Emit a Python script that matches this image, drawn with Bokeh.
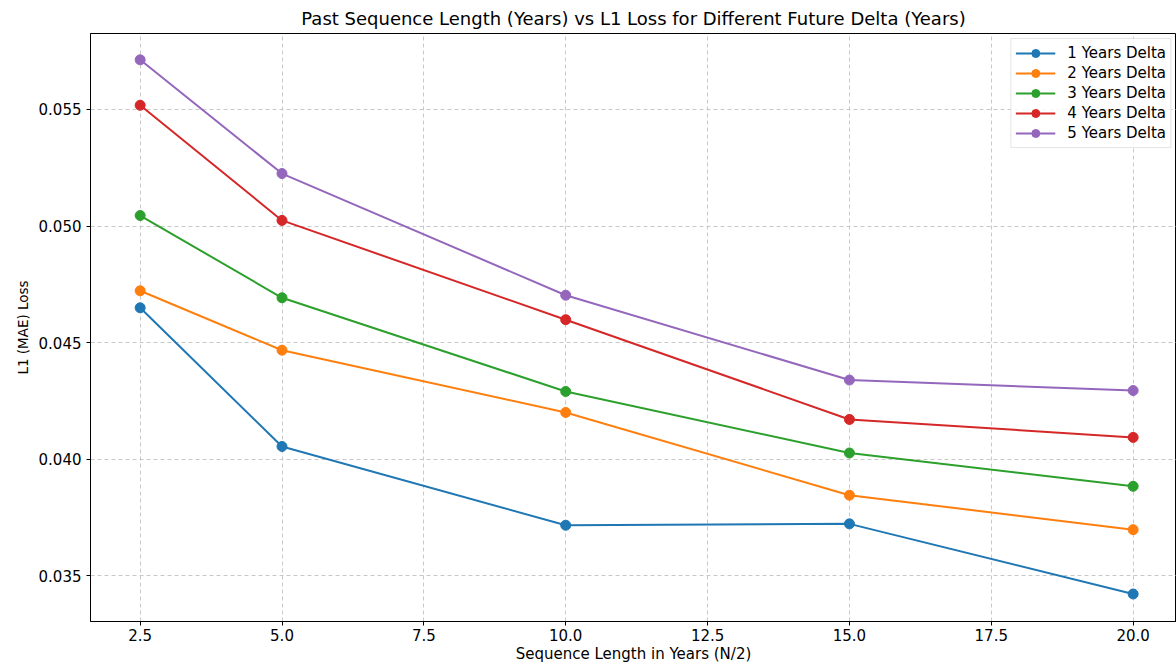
from bokeh.plotting import figure
from bokeh.models import FixedTicker, PrintfTickFormatter, Range1d
from bokeh.embed import file_html
from bokeh.resources import INLINE

seq_len = [2.5, 5.0, 10.0, 15.0, 20.0]
delta_1 = [0.04649, 0.04054, 0.03716, 0.03722, 0.03421]
delta_2 = [0.04722, 0.04467, 0.04200, 0.03845, 0.03697]
delta_3 = [0.05045, 0.04692, 0.04290, 0.04026, 0.03883]
delta_4 = [0.05518, 0.05024, 0.04598, 0.04170, 0.04093]
delta_5 = [0.05713, 0.05225, 0.04703, 0.04339, 0.04294]
labels = ["1 Years Delta", "2 Years Delta", "3 Years Delta", "4 Years Delta", "5 Years Delta"]
colors = ["#1f77b4", "#ff7f0e", "#2ca02c", "#d62728", "#9467bd"]
x_ticks = [2.5, 5.0, 7.5, 10.0, 12.5, 15.0, 17.5, 20.0]
y_ticks = [0.035, 0.040, 0.045, 0.050, 0.055]

FONT = "DejaVu Sans"

p = figure(width=1176, height=666, output_backend="svg", toolbar_location=None,
           title="Past Sequence Length (Years) vs L1 Loss for Different Future Delta (Years)",
           x_range=Range1d(1.625, 20.764), y_range=Range1d(0.03303, 0.05826),
           min_border_left=90, min_border_right=0, min_border_top=31, min_border_bottom=45)

p.title.align = "center"
p.title.text_font = FONT
p.title.text_font_size = "18px"
p.title.text_font_style = "normal"
p.title.text_color = "black"

for ys, lab, c in zip([delta_1, delta_2, delta_3, delta_4, delta_5], labels, colors):
    p.line(seq_len, ys, line_color=c, line_width=2, legend_label=lab)
    p.scatter(seq_len, ys, size=10, fill_color=c, line_color=c, legend_label=lab)

p.xaxis.ticker = FixedTicker(ticks=x_ticks)
p.yaxis.ticker = FixedTicker(ticks=y_ticks)
p.xaxis.formatter = PrintfTickFormatter(format="%.1f")
p.yaxis.formatter = PrintfTickFormatter(format="%.3f")
p.xaxis.axis_label = "Sequence Length in Years (N/2)"
p.yaxis.axis_label = "L1 (MAE) Loss"
for ax in (p.xaxis, p.yaxis):
    ax.axis_label_text_font = FONT
    ax.axis_label_text_font_style = "normal"
    ax.axis_label_text_color = "black"
    ax.major_label_text_font = FONT
    ax.major_label_text_font_size = "15px"
    ax.major_label_text_color = "black"
    ax.axis_line_color = "black"
    ax.major_tick_line_color = "black"
    ax.major_tick_out = 4
    ax.major_tick_in = 0
    ax.minor_tick_line_color = None
p.xaxis.axis_label_text_font_size = "15px"
p.yaxis.axis_label_text_font_size = "13.5px"
p.xaxis.axis_label_standoff = 1
p.yaxis.axis_label_standoff = 5
p.xaxis.major_label_standoff = 3

p.outline_line_color = "black"
p.grid.grid_line_color = "#c8c8c8"
p.grid.grid_line_dash = "4 3"
p.grid.grid_line_width = 1

p.legend.location = "top_right"
p.legend.margin = 5
p.legend.padding = 4
p.legend.spacing = 0
p.legend.glyph_height = 20
p.legend.label_height = 20
p.legend.glyph_width = 40
p.legend.label_standoff = 12
p.legend.label_text_font = FONT
p.legend.label_text_font_size = "15px"
p.legend.label_text_color = "black"
p.legend.border_line_color = "#cccccc"
p.legend.background_fill_alpha = 0.85

open("out.html", "w").write(file_html(p, INLINE))
